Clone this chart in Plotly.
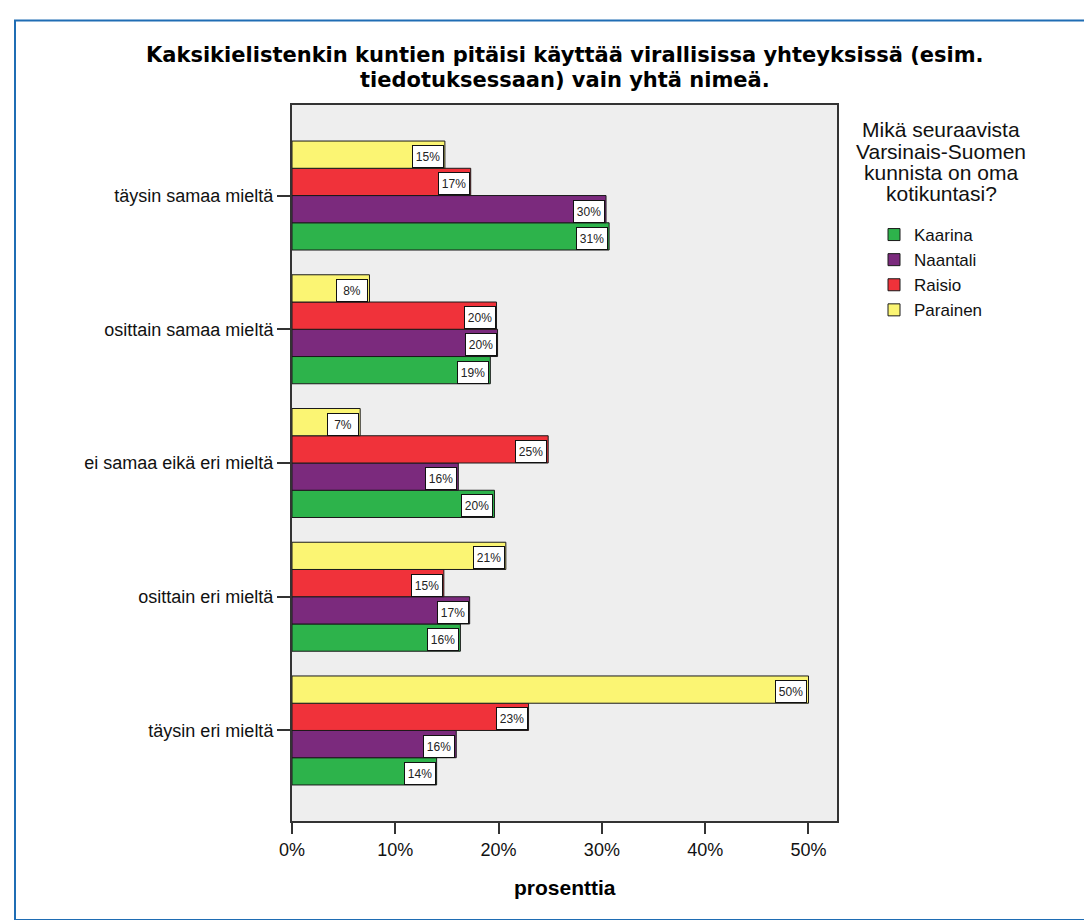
import plotly.graph_objects as go

# ---------------- data ----------------
categories = [
    "täysin samaa mieltä",
    "osittain samaa mieltä",
    "ei samaa eikä eri mieltä",
    "osittain eri mieltä",
    "täysin eri mieltä",
]
series_names = ["Kaarina", "Naantali", "Raisio", "Parainen"]
kaarina = [30.7, 19.2, 19.6, 16.3, 14.0]
naantali = [30.4, 19.9, 16.1, 17.2, 15.9]
raisio = [17.3, 19.8, 24.8, 14.7, 22.9]
parainen = [14.8, 7.5, 6.6, 20.7, 50.0]
series_values = [kaarina, naantali, raisio, parainen]
series_colors = ["#2db34b", "#7b2a7d", "#f0323a", "#fbf573"]
x_ticks = [0, 10, 20, 30, 40, 50]
title_lines = [
    "Kaksikielistenkin kuntien pitäisi käyttää virallisissa yhteyksissä (esim.",
    "tiedotuksessaan) vain yhtä nimeä.",
]
legend_title_lines = ["Mikä seuraavista", "Varsinais-Suomen", "kunnista on oma", "kotikuntasi?"]
x_title = "prosenttia"

# ---------------- layout geometry ----------------
W, H = 1092, 920
L, R, T, B = 284, 829, 97, 813  # plot area in px
FONT = "Liberation Sans, Arial, sans-serif"
TITLE_FONT = "DejaVu Sans, Liberation Sans, Arial, sans-serif"


def px_x(px):
    return (px - L) / (R - L)


def px_y(py):
    return (B - py) / (B - T)


n_cat = len(categories)
n_ser = len(series_names)
bargap = 0.185
bar_w = (1 - bargap) / n_ser
ypos = [n_cat - 1 - i for i in range(n_cat)]

fig = go.Figure()
annotations = []
for j, (name, vals, col) in enumerate(zip(series_names, series_values, series_colors)):
    fig.add_trace(go.Bar(
        name=name, orientation="h", x=vals, y=ypos,
        marker=dict(color=col, line=dict(color="#1a1a1a", width=1)),
        hoverinfo="x+name",
    ))
    off = (j - (n_ser - 1) / 2) * bar_w
    for v, yp in zip(vals, ypos):
        annotations.append(dict(
            x=v, y=yp + off, xref="x", yref="y", text=f"{v:.0f}%",
            showarrow=False, xanchor="right", yanchor="middle", xshift=-1, yshift=-2,
            font=dict(family=FONT, size=12, color="#222"),
            bgcolor="white", bordercolor="#111", borderwidth=1, borderpad=1,
            width=28, height=19,
        ))

# title lines
for line, py in zip(title_lines, [47, 72]):
    annotations.append(dict(
        x=0.5, y=px_y(py), xref="paper", yref="paper", text=line, showarrow=False,
        xanchor="center", yanchor="middle",
        font=dict(family=TITLE_FONT, size=21, color="#000", weight="bold"),
    ))

# legend title lines
for line, py in zip(legend_title_lines, [122, 143, 164, 185]):
    annotations.append(dict(
        x=px_x(933), y=px_y(py), xref="paper", yref="paper", text=line, showarrow=False,
        xanchor="center", yanchor="middle",
        font=dict(family=FONT, size=21, color="#111"),
    ))

# x-axis title
annotations.append(dict(
    x=0.5, y=px_y(879), xref="paper", yref="paper", text=x_title, showarrow=False,
    xanchor="center", yanchor="middle",
    font=dict(family=FONT, size=21, color="#000", weight="bold"),
))

fig.update_layout(
    width=W, height=H,
    margin=dict(l=L, r=W - R, t=T, b=H - B, autoexpand=False),
    paper_bgcolor="white", plot_bgcolor="#eeeeee",
    barmode="group", bargap=bargap, bargroupgap=0,
    showlegend=True,
    legend=dict(
        x=px_x(866), y=px_y(209), xanchor="left", yanchor="top",
        font=dict(family=FONT, size=17, color="#111"),
        bgcolor="rgba(0,0,0,0)", traceorder="normal", tracegroupgap=0,
    ),
    annotations=annotations,
    shapes=[dict(
        type="rect", xref="paper", yref="paper",
        x0=px_x(7), x1=px_x(1086), y0=px_y(912), y1=px_y(12.5),
        line=dict(color="#1f6db4", width=2), fillcolor="rgba(0,0,0,0)", layer="below",
    )],
    xaxis=dict(
        range=[0, 52.76], tickvals=x_ticks, ticktext=[f"{t}%" for t in x_ticks],
        showgrid=False, zeroline=False, ticks="outside", ticklen=11, tickwidth=2,
        tickcolor="#333", showline=True, linecolor="#333", linewidth=2, mirror=True,
        tickfont=dict(family=FONT, size=18, color="#111"),
    ),
    yaxis=dict(
        range=[-0.677, n_cat - 1 + 0.677], tickvals=ypos, ticktext=categories,
        showgrid=False, zeroline=False, ticks="outside", ticklen=13, tickwidth=1.5,
        tickcolor="#333", showline=True, linecolor="#333", linewidth=2, mirror=True,
        tickfont=dict(family=FONT, size=18, color="#111"),
    ),
)

fig.write_html("out.html")
